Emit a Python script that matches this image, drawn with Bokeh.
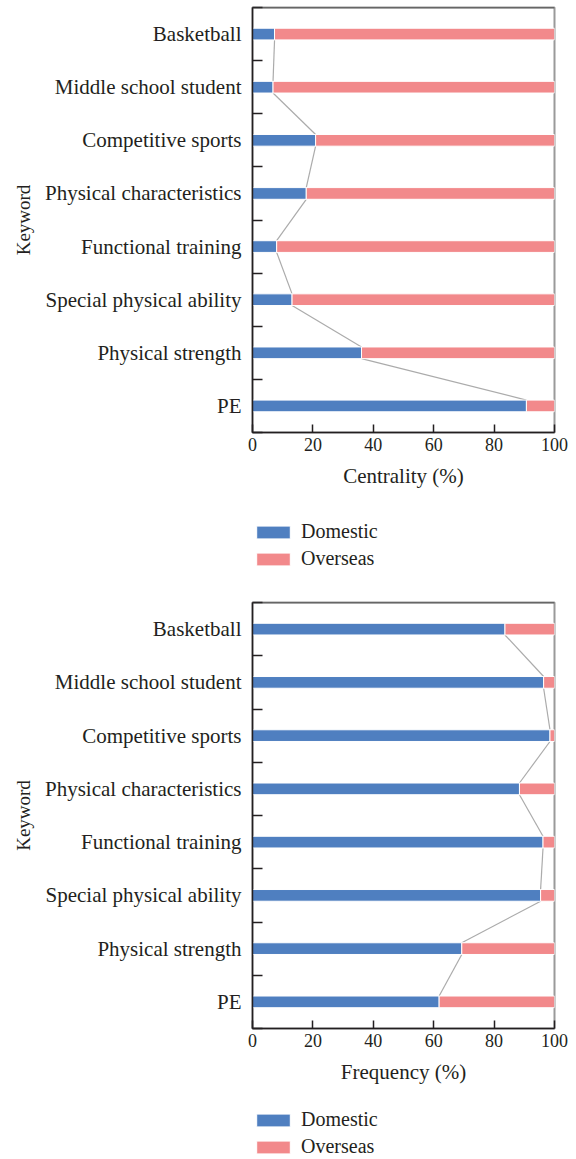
from bokeh.plotting import figure
from bokeh.models import (ColumnDataSource, FixedTicker, Legend, LegendItem, Span)
from bokeh.layouts import column
from bokeh.embed import file_html
from bokeh.resources import INLINE

categories = ["Basketball", "Middle school student", "Competitive sports",
              "Physical characteristics", "Functional training",
              "Special physical ability", "Physical strength", "PE"]

centrality_domestic = [7.3, 6.8, 20.9, 17.8, 8.0, 13.1, 36.1, 90.7]
centrality_overseas = [92.7, 93.2, 79.1, 82.2, 92.0, 86.9, 63.9, 9.3]

frequency_domestic = [83.6, 96.4, 98.5, 88.4, 96.2, 95.4, 69.3, 61.8]
frequency_overseas = [16.4, 3.6, 1.5, 11.6, 3.8, 4.6, 30.7, 38.2]

series_names = ["Domestic", "Overseas"]
x_ticks = [0, 20, 40, 60, 80, 100]

BLUE = "#4F7FC0"
PINK = "#F2898B"
FONT = "Liberation Serif"
TXT = "#231F20"
BAR_H = 0.22
W = 574


def make_chart(dom, ovs, xlabel, height, top_border, bottom_border):
    n = len(categories)
    ys = [n - 1 - i for i in range(n)]
    src = ColumnDataSource(dict(
        y=ys, dom=dom, total=[d + o for d, o in zip(dom, ovs)],
        zero=[0] * n))
    p = figure(width=W, height=height,
               x_range=(0, 100), y_range=(-0.5, n - 0.5),
               output_backend="svg", toolbar_location=None,
               min_border_left=252, min_border_right=20,
               min_border_top=top_border, min_border_bottom=bottom_border)
    p.grid.visible = False
    p.outline_line_color = "#9a9a9a"
    p.outline_line_width = 2
    p.background_fill_color = "white"

    # connector lines between the domestic ends
    p.segment(x0=dom[:-1], y0=[y - BAR_H / 2 for y in ys[:-1]],
              x1=dom[1:], y1=[y + BAR_H / 2 for y in ys[1:]],
              line_color="#ABABAB", line_width=1.2)

    p.hbar(y="y", left="zero", right="dom", height=BAR_H, source=src,
           fill_color=BLUE, line_color="white", line_width=1)
    p.hbar(y="y", left="dom", right="total", height=BAR_H, source=src,
           fill_color=PINK, line_color="white", line_width=1)

    top = Span(location=n - 0.5, dimension="width", line_color="#333333",
               line_width=1.5)
    p.add_layout(top)

    # x axis
    xa = p.xaxis[0]
    xa.ticker = FixedTicker(ticks=x_ticks)
    xa.axis_label = xlabel
    xa.major_tick_in = 8
    xa.major_tick_out = 0
    xa.minor_tick_line_color = None
    xa.major_label_standoff = 5
    xa.axis_label_standoff = 10

    # y axis
    ya = p.yaxis[0]
    ya.ticker = FixedTicker(ticks=ys,
                            minor_ticks=[k - 0.5 for k in range(n + 1)])
    ya.major_label_overrides = {y: c for y, c in zip(ys, categories)}
    ya.axis_label = "Keyword"
    ya.major_tick_in = 0
    ya.major_tick_out = 0
    ya.minor_tick_in = 10
    ya.minor_tick_out = 0
    ya.major_label_standoff = 11
    ya.axis_label_standoff = 8

    for ax in (xa, ya):
        ax.axis_line_color = TXT
        ax.axis_line_width = 1.5
        ax.major_tick_line_width = 1.5
        ax.minor_tick_line_width = 1.5
        ax.major_label_text_font = FONT
        ax.major_label_text_color = TXT
        ax.axis_label_text_font = FONT
        ax.axis_label_text_font_style = "normal"
        ax.axis_label_text_color = TXT
    xa.major_tick_line_color = TXT
    ya.major_tick_line_color = None
    ya.minor_tick_line_color = TXT
    xa.major_label_text_font_size = "18px"
    xa.axis_label_text_font_size = "21px"
    ya.major_label_text_font_size = "21px"
    ya.axis_label_text_font_size = "19px"
    return p


def make_legend(height, top):
    lp = figure(width=W, height=height, x_range=(0, 1), y_range=(0, 1),
                output_backend="svg", toolbar_location=None,
                x_axis_location=None, y_axis_location=None,
                min_border_left=248, min_border_top=top,
                min_border_right=0, min_border_bottom=0,
                outline_line_color=None)
    lp.grid.visible = False
    # legend-key carriers: one row kept outside the visible range
    proxy = ColumnDataSource(dict(y=[-5], left=[0], right=[0]))
    items = []
    for name, col in zip(series_names, [BLUE, PINK]):
        r = lp.hbar(y="y", left="left", right="right", height=0.5,
                    source=proxy, fill_color=col, line_color="white",
                    line_width=1)
        items.append(LegendItem(label=name, renderers=[r]))
    legend = Legend(items=items, location="top_left", orientation="vertical",
                    glyph_width=42, glyph_height=16, label_height=16,
                    label_standoff=7, spacing=4, padding=0,
                    margin=0, border_line_color=None,
                    background_fill_alpha=0,
                    label_text_font=FONT, label_text_font_size="20px",
                    label_text_color=TXT)
    lp.add_layout(legend)
    return lp


p1 = make_chart(centrality_domestic, centrality_overseas, "Centrality (%)",
                505, 7, 73)
l1 = make_legend(85, 15)
p2 = make_chart(frequency_domestic, frequency_overseas, "Frequency (%)",
                511, 12, 73)
l2 = make_legend(58, 7)

layout = column(p1, l1, p2, l2)
open("out.html", "w").write(file_html(layout, INLINE))
